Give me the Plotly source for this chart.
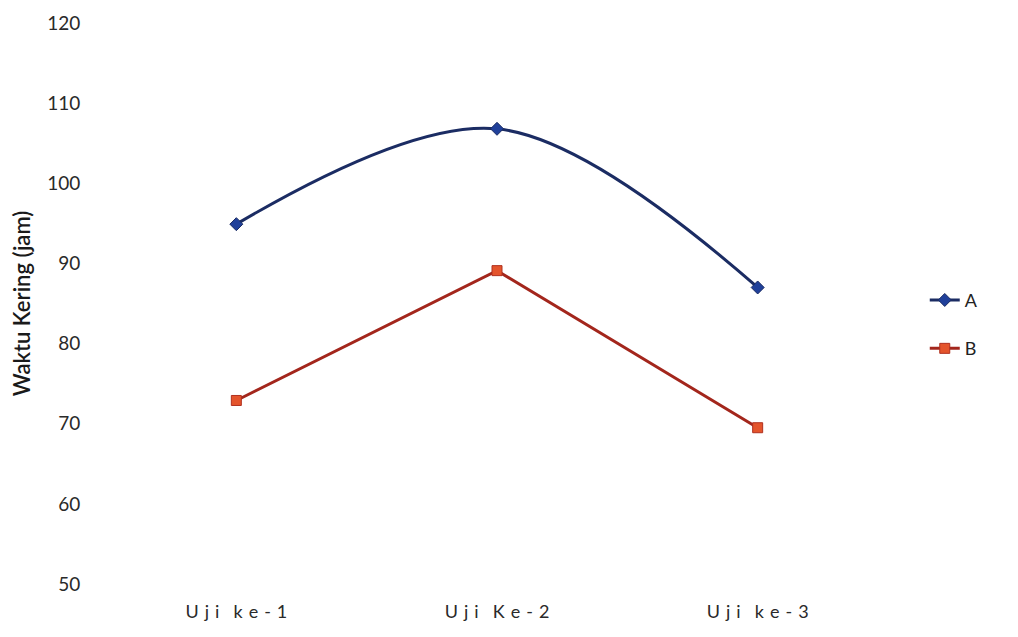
import plotly.graph_objects as go

categories = ["Uji ke-1", "Uji Ke-2", "Uji ke-3"]
series_a = [94.9, 106.8, 87.0]
series_b = [72.9, 89.1, 69.5]
y_ticks = [50, 60, 70, 80, 90, 100, 110, 120]

# spaced tick text to imitate letter spacing of the original
tick_text = ["\u2004".join(c.replace(" ", "\u2009")) for c in categories]

fig = go.Figure()
fig.add_trace(go.Scatter(
    x=categories, y=series_a, name="A", mode="lines+markers",
    line=dict(color="#1b2c63", width=3, shape="spline", smoothing=1.0),
    marker=dict(symbol="diamond", size=10, color="#20409a", line=dict(color="#1b2c63", width=1)),
    legendgroup="a",
))
fig.add_trace(go.Scatter(
    x=categories, y=series_b, name="B", mode="lines+markers",
    line=dict(color="#a3261c", width=3),
    marker=dict(symbol="square", size=10, color="#e4542c", line=dict(color="#b0301f", width=1)),
    legendgroup="b",
))

fig.update_layout(
    width=1018, height=637,
    margin=dict(l=98, r=138, t=15, b=61, autoexpand=False),
    paper_bgcolor="white", plot_bgcolor="white",
    font=dict(family="Lato, 'Open Sans', sans-serif", color="#2a2a2a", size=17),
    showlegend=True,
    legend=dict(x=1.047, y=0.463, xanchor="left", yanchor="middle",
                traceorder="grouped", tracegroupgap=22,
                font=dict(size=18, color="#222"), bgcolor="rgba(0,0,0,0)"),
    xaxis=dict(type="category", range=[-0.5, 2.5], showgrid=False, zeroline=False,
               showline=False, ticks="outside", ticklen=11, tickcolor="rgba(0,0,0,0)",
               tickvals=categories, ticktext=tick_text, automargin=False,
               tickfont=dict(size=18, color="#2a2a2a")),
    yaxis=dict(range=[50, 120], tickvals=y_ticks, showgrid=False, zeroline=False,
               showline=False, ticks="outside", ticklen=21, tickcolor="rgba(0,0,0,0)",
               automargin=False,
               tickfont=dict(size=19, color="#2a2a2a"),
               title=dict(text="Waktu Kering (jam)", standoff=22,
                          font=dict(size=22, color="#1a1a1a", weight=600))),
)

fig.write_html("out.html")
